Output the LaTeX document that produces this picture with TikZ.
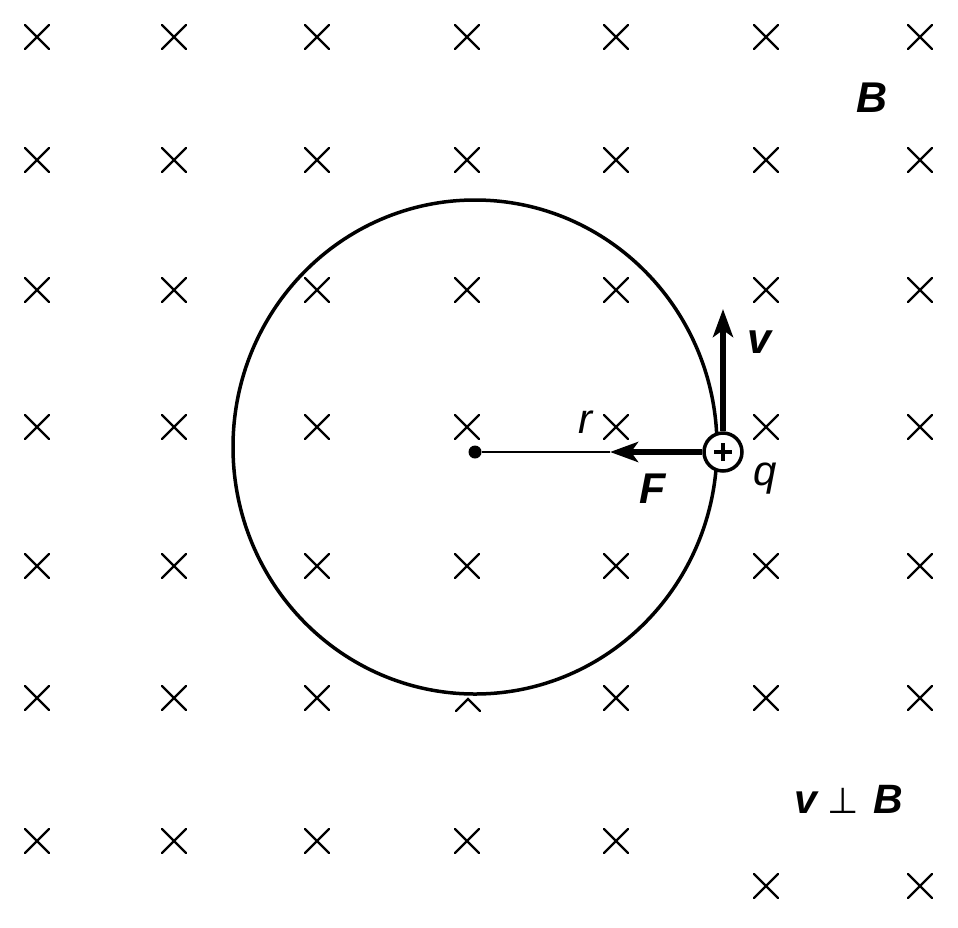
\documentclass[tikz,border=0pt]{standalone}
\usepackage{fontspec}
\setmainfont{Liberation Sans}
\newfontfamily\symbfont{DejaVu Sans}
\usetikzlibrary{arrows.meta}
\begin{document}
\begin{tikzpicture}[x=1pt,y=-1pt,
  crossmark/.style={line width=2.2pt, line cap=round},
  boldlab/.style={font=\fontsize{43}{43}\selectfont\bfseries\itshape, anchor=base, inner sep=0},
  itlab/.style={font=\fontsize{42}{42}\selectfont\itshape, anchor=base, inner sep=0},
  tipstyle/.style={-{Stealth[length=28pt,width=20pt,inset=7pt]}}]
\useasboundingbox (0,0) rectangle (958,927);
\fill[white] (0,0) rectangle (958,927);
% field crosses
\foreach \y in {37,160,290,427,566} {
  \foreach \x in {37,174,317,467,616,766,920} {
    \draw[crossmark] (\x-12,\y-12) -- (\x+12,\y+12) (\x-12,\y+12) -- (\x+12,\y-12);
  }
}
\foreach \x in {37,174,317,616,766,920} {
  \draw[crossmark] (\x-12,698-12) -- (\x+12,698+12) (\x-12,698+12) -- (\x+12,698-12);
}
\draw[crossmark] (456,711) -- (468,699) -- (480,711);
\foreach \x in {37,174,317,467,616} {
  \draw[crossmark] (\x-12,841-12) -- (\x+12,841+12) (\x-12,841+12) -- (\x+12,841-12);
}
\foreach \x in {766,920} {
  \draw[crossmark] (\x-12,886-12) -- (\x+12,886+12) (\x-12,886+12) -- (\x+12,886-12);
}
% orbit
\draw[line width=3.5pt] (475,447) ellipse [x radius=242, y radius=247];
% centre and particle
\node[circle, fill=black, inner sep=0, minimum size=13] (O) at (475,452) {};
\coordinate (Ftip) at (610,452);
\coordinate (vtip) at (723,309);
\draw[line width=2.8pt] (O) -- (Ftip);
\node[circle, draw, fill=white, line width=3.5pt, minimum size=38, inner sep=0] (p) at (723,452) {};
\draw[line width=3.5pt] ([xshift=-9pt]p.center) -- ([xshift=9pt]p.center)
  ([yshift=-9pt]p.center) -- ([yshift=9pt]p.center);
\draw[line width=5.5pt, tipstyle] (p.north) -- (vtip);
\draw[line width=5.5pt, tipstyle] (p.west) -- (Ftip);
% labels
\node[boldlab] (Blab) at (872,112) {B};
\node[boldlab] (vlab) at (759,353) {v};
\node[boldlab] (Flab) at (653,503) {F};
\node[itlab] (rlab) at (585,433) {r};
\node[itlab] (qlab) at (765,485) {q};
\node[anchor=base, inner sep=0, font=\fontsize{41}{41}\selectfont] (vB) at (849,813)
  {\textbf{\textit{v}}\hspace{0.2em}{\symbfont\fontsize{36}{36}\selectfont ⊥}\hspace{0.35em}\textbf{\textit{B}}};
\end{tikzpicture}
\end{document}
